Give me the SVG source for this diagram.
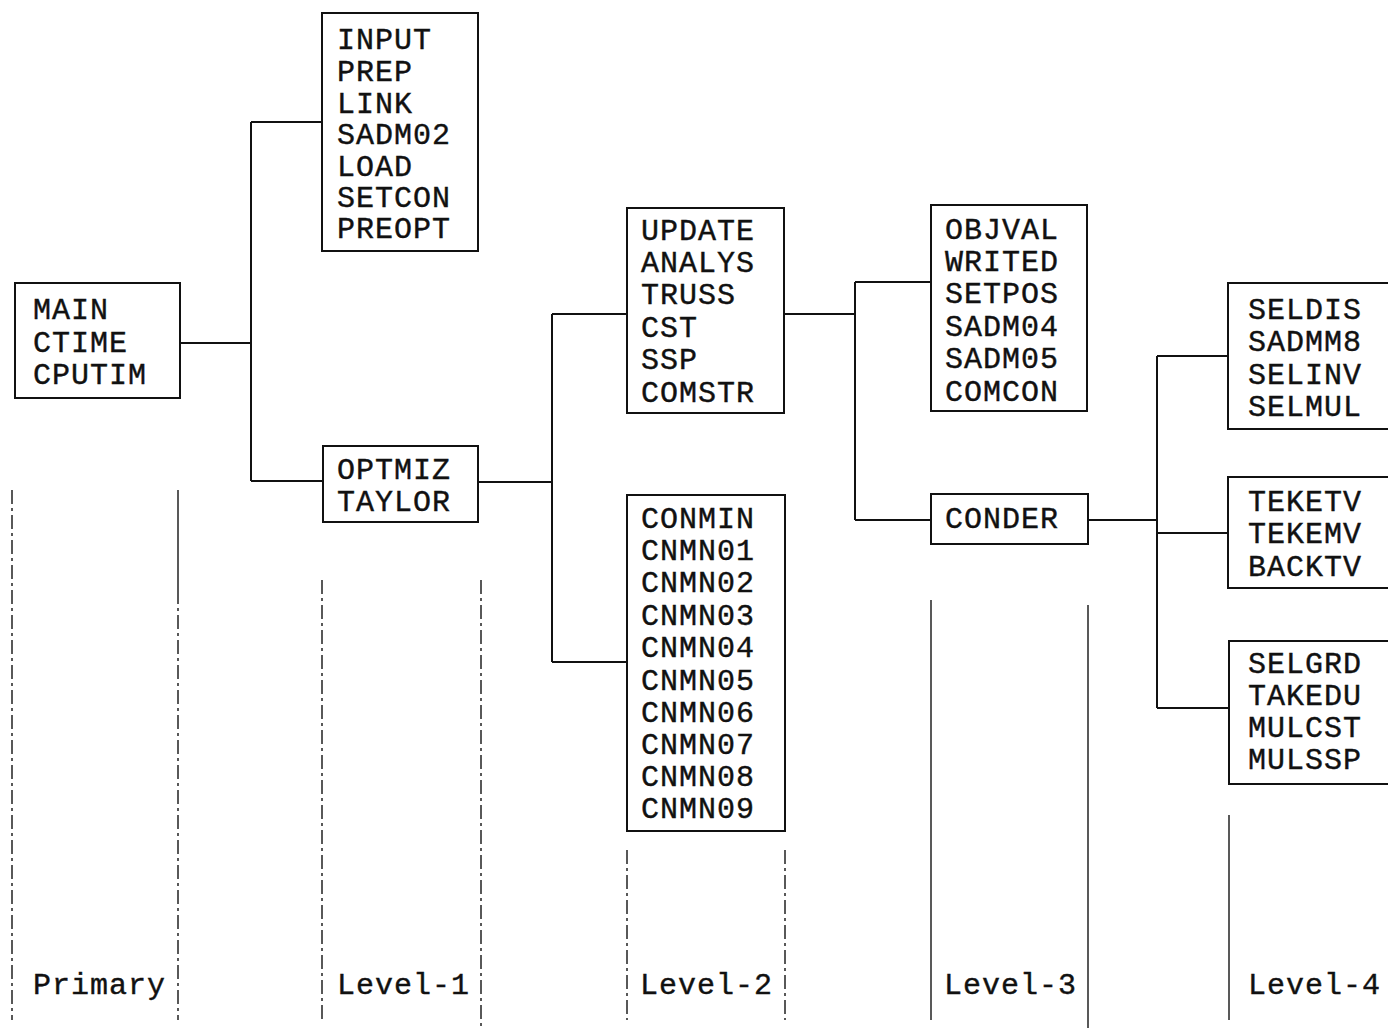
<svg xmlns="http://www.w3.org/2000/svg" width="1388" height="1028" viewBox="0 0 1388 1028">
<style>
  .box { fill: #fff; stroke: #111; stroke-width: 2; }
  .t { font-family: "Liberation Mono", "Courier New", monospace; font-size: 30px; letter-spacing: 1px; fill: #111; stroke: #111; stroke-width: 0.4; }
  .c { fill: none; stroke: #111; stroke-width: 2; }
  .col { fill: none; stroke: #222; stroke-width: 1.5; }
  .dash { stroke-dasharray: 14 4 3 4; }
</style>
<rect width="1388" height="1028" fill="#fff"/>

<g id="connectors">
  <path class="c" d="M180 343 H251 M251 122 V481 M251 122 H322 M251 481 H323"/>
  <path class="c" d="M478 482 H552 M552 314 V662 M552 314 H627 M552 662 H627"/>
  <path class="c" d="M784 314 H855 M855 282 V520 M855 282 H931 M855 520 H931"/>
  <path class="c" d="M1088 520 H1157 M1157 356 V708 M1157 356 H1228 M1157 533 H1228 M1157 708 H1229"/>
</g>

<g id="columns">
  <path class="col dash" d="M12 490 V1020"/>
  <path class="col" d="M178 490 V590"/>
  <path class="col dash" d="M178 590 V1020"/>
  <path class="col dash" d="M322 580 V1020"/>
  <path class="col dash" d="M481 580 V1028"/>
  <path class="col dash" d="M627 850 V1020"/>
  <path class="col dash" d="M785 850 V1020"/>
  <path class="col" d="M931 600 V1020"/>
  <path class="col" d="M1088 605 V1028"/>
  <path class="col" d="M1229 815 V1020"/>
</g>

<g id="node-main">
  <rect class="box" x="15" y="283" width="165" height="115"/>
  <text class="t"><tspan x="33" y="319">MAIN</tspan><tspan x="33" y="352">CTIME</tspan><tspan x="33" y="384">CPUTIM</tspan></text>
</g>

<g id="node-input">
  <rect class="box" x="322" y="13" width="156" height="238"/>
  <text class="t"><tspan x="337" y="49">INPUT</tspan><tspan x="337" y="81">PREP</tspan><tspan x="337" y="113">LINK</tspan><tspan x="337" y="144">SADM02</tspan><tspan x="337" y="176">LOAD</tspan><tspan x="337" y="207">SETCON</tspan><tspan x="337" y="238">PREOPT</tspan></text>
</g>

<g id="node-optmiz">
  <rect class="box" x="323" y="446" width="155" height="76"/>
  <text class="t"><tspan x="337" y="479">OPTMIZ</tspan><tspan x="337" y="511">TAYLOR</tspan></text>
</g>

<g id="node-update">
  <rect class="box" x="627" y="208" width="157" height="205"/>
  <text class="t"><tspan x="641" y="240">UPDATE</tspan><tspan x="641" y="272">ANALYS</tspan><tspan x="641" y="304">TRUSS</tspan><tspan x="641" y="337">CST</tspan><tspan x="641" y="369">SSP</tspan><tspan x="641" y="402">COMSTR</tspan></text>
</g>

<g id="node-conmin">
  <rect class="box" x="627" y="495" width="158" height="336"/>
  <text class="t"><tspan x="641" y="528">CONMIN</tspan><tspan x="641" y="560">CNMN01</tspan><tspan x="641" y="592">CNMN02</tspan><tspan x="641" y="625">CNMN03</tspan><tspan x="641" y="657">CNMN04</tspan><tspan x="641" y="690">CNMN05</tspan><tspan x="641" y="722">CNMN06</tspan><tspan x="641" y="754">CNMN07</tspan><tspan x="641" y="786">CNMN08</tspan><tspan x="641" y="818">CNMN09</tspan></text>
</g>

<g id="node-objval">
  <rect class="box" x="931" y="205" width="156" height="206"/>
  <text class="t"><tspan x="945" y="239">OBJVAL</tspan><tspan x="945" y="271">WRITED</tspan><tspan x="945" y="303">SETPOS</tspan><tspan x="945" y="336">SADM04</tspan><tspan x="945" y="368">SADM05</tspan><tspan x="945" y="401">COMCON</tspan></text>
</g>

<g id="node-conder">
  <rect class="box" x="931" y="494" width="157" height="50"/>
  <text class="t"><tspan x="945" y="528">CONDER</tspan></text>
</g>

<g id="node-seldis">
  <rect class="box" x="1228" y="283" width="200" height="146"/>
  <text class="t"><tspan x="1248" y="319">SELDIS</tspan><tspan x="1248" y="351">SADMM8</tspan><tspan x="1248" y="384">SELINV</tspan><tspan x="1248" y="416">SELMUL</tspan></text>
</g>

<g id="node-teketv">
  <rect class="box" x="1228" y="477" width="200" height="111"/>
  <text class="t"><tspan x="1248" y="511">TEKETV</tspan><tspan x="1248" y="543">TEKEMV</tspan><tspan x="1248" y="576">BACKTV</tspan></text>
</g>

<g id="node-selgrd">
  <rect class="box" x="1229" y="641" width="200" height="143"/>
  <text class="t"><tspan x="1248" y="673">SELGRD</tspan><tspan x="1248" y="705">TAKEDU</tspan><tspan x="1248" y="737">MULCST</tspan><tspan x="1248" y="769">MULSSP</tspan></text>
</g>

<g id="labels">
  <text class="t" x="33" y="994">Primary</text>
  <text class="t" x="337" y="994">Level-1</text>
  <text class="t" x="640" y="994">Level-2</text>
  <text class="t" x="944" y="994">Level-3</text>
  <text class="t" x="1248" y="994">Level-4</text>
</g>
</svg>
